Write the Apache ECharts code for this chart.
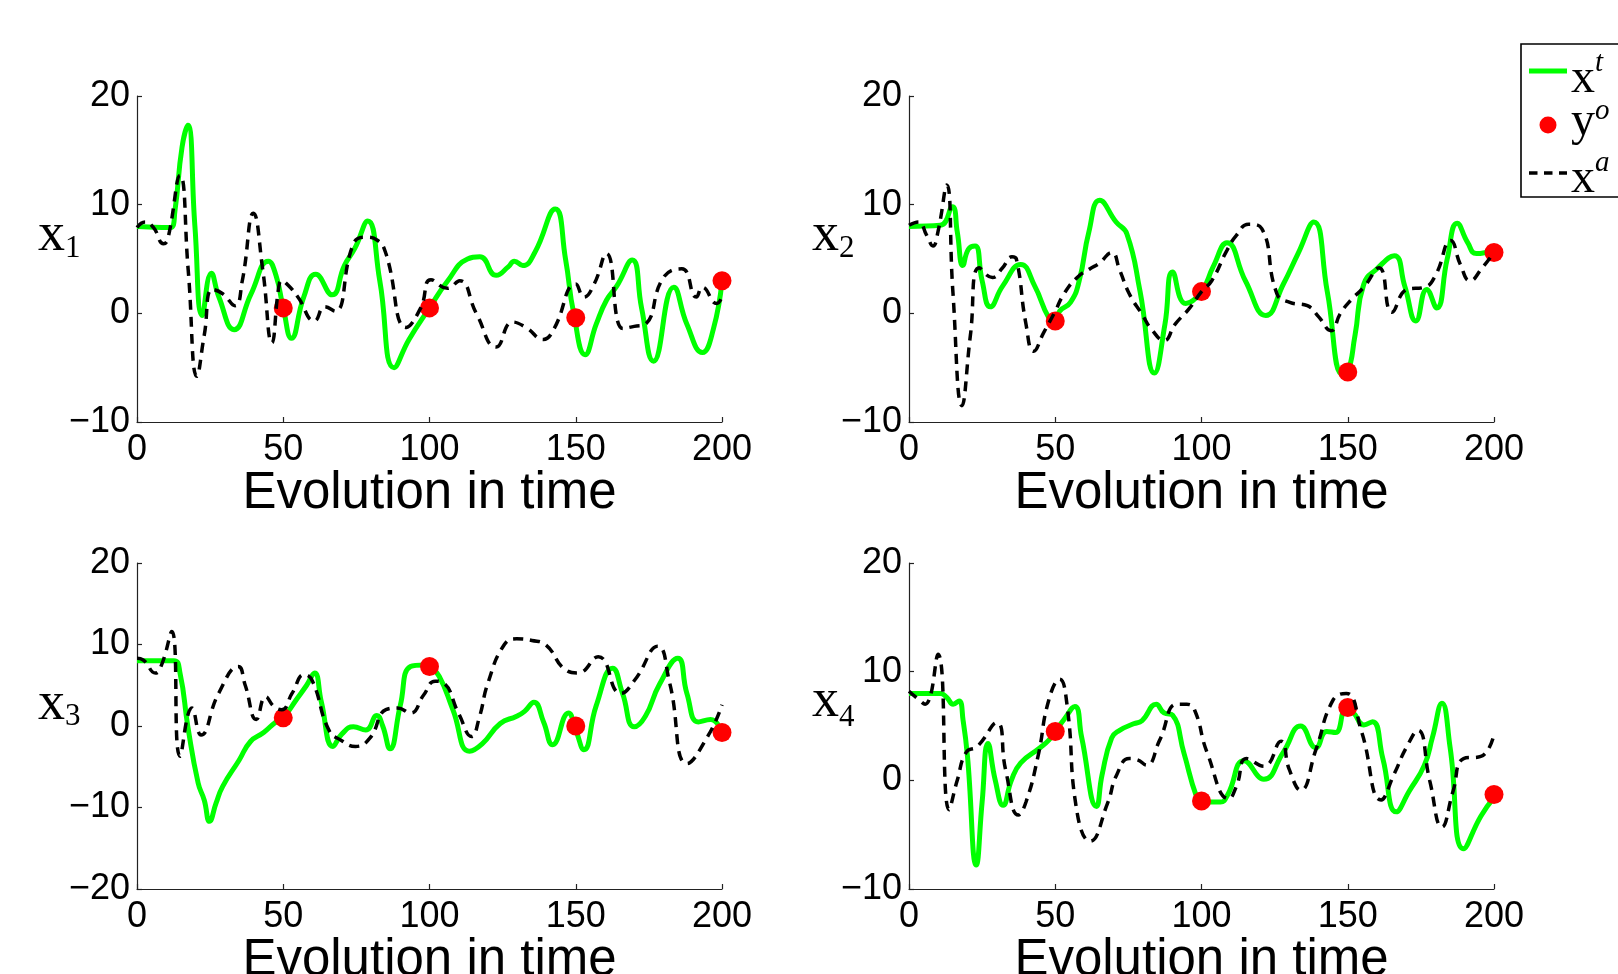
<!DOCTYPE html>
<html>
<head>
<meta charset="utf-8">
<script src="https://cdn.jsdelivr.net/npm/echarts@6/dist/echarts.min.js"></script>
<style>
  html, body { margin: 0; padding: 0; background: #fff; }
  #main { width: 1618px; height: 974px; }
</style>
</head>
<body>
<div id="main"></div>
<script>
// time axis ticks
var timeTicks = [0, 50, 100, 150, 200];

// x1 panel
var x1True = [[0,8.0],[11.5,7.9],[13,9.5],[15.4,15.3],[17.4,17.3],[19.8,8.0],[22.3,-0.2],[25.4,3.7],[28,1.5],[33.2,-1.5],[39,1.8],[44.9,4.8],[47.5,3.5],[50,0.5],[52.8,-2.3],[57,1.5],[61.1,3.6],[66.7,1.7],[70.9,4.4],[74.5,6.0],[78.9,8.5],[83,3],[87.9,-5.0],[93,-2.4],[100,0.5],[106,2.9],[113,5.0],[117.2,5.2],[122.8,3.5],[127,4.3],[129,4.8],[131.9,4.4],[136,5.6],[143,9.6],[146.5,5],[149.3,0],[153.2,-3.8],[157,-1],[160.5,1.2],[164,2.5],[169.3,4.9],[172.5,0.5],[176.6,-4.4],[183.5,2.4],[188,-1],[193.3,-3.6],[197,-1.5],[200,3.0]];
var x1Obs = [[50,0.5],[100,0.5],[150,-0.4],[200,3.0]];
var x1Anal = [[0,7.9],[2.8,8.4],[5.6,7.9],[9.1,6.4],[10.5,6.8],[14.7,12.7],[17.5,4],[20.5,-5.8],[23,-2],[25.8,2.2],[29.3,1.8],[33.5,0.7],[36,3],[39.8,9.2],[43,4],[46.1,-2.7],[48.5,2.5],[49.5,3.0],[51.6,2.6],[55,1.5],[60.7,-0.7],[64.2,0.6],[67.7,0.2],[74,6.4],[78.2,7.0],[82.3,6.7],[85.1,5.5],[92.1,-1.3],[97,0.5],[100.5,3.1],[106.1,2.3],[110.3,3.0],[116,0],[122.8,-3.1],[128.4,-0.8],[133,-1.3],[138.9,-2.4],[142.4,-1.5],[150,2.7],[152.8,1.5],[156.3,2.7],[160.5,5.5],[166.1,-1.4],[170,-1.2],[173.8,-1.0],[180,3.3],[186.3,4.1],[191.2,1.5],[193.3,2.4],[198.2,0.9],[200,1.5]];

// x2 panel
var x2True = [[0,8.0],[10.7,8.1],[14.8,9.8],[16.5,7.5],[18.4,4.4],[20.3,5.9],[22.6,6.2],[25,3],[27.8,0.6],[32,2.5],[38.2,4.5],[43,2.5],[47.8,-0.4],[50,-0.7],[51.5,0.2],[55.2,1.0],[58.2,3.0],[61.5,7.5],[65.2,10.4],[70.8,8.4],[74.5,7.3],[79,2],[83.9,-5.5],[87.5,-1],[90.1,3.8],[94.6,0.9],[100,2.0],[104,4.3],[108.7,6.5],[115,3],[122,-0.2],[128,2.7],[133,5.5],[138.4,8.4],[143,2],[148.2,-5.6],[150,-5.4],[152.5,-2],[155.5,2.7],[160,4.1],[165.9,5.3],[169.5,2.5],[173.3,-0.7],[177,2.2],[180.4,0.5],[184,5],[187.4,8.3],[191,6.5],[194,5.5],[200,5.8]];
var x2Obs = [[50,-0.7],[100,2.0],[150,-5.4],[200,5.6]];
var x2Anal = [[0,8.1],[3.3,8.4],[6,7.2],[8.2,6.2],[9.9,7.5],[12.9,11.8],[15,2],[18.1,-8.5],[21,-2],[24,4.2],[28.5,3.3],[32,4.2],[35.2,5.2],[36.7,5.0],[40,-1],[42.6,-3.5],[46,-1.8],[50,0.2],[53,1.8],[57.5,3.3],[61.9,4.1],[65,4.6],[69.3,5.6],[72,4],[75.3,1.8],[79.7,-0.1],[83,-1.5],[87.2,-2.5],[91,-1],[96,0.5],[100,2],[103.5,3.0],[108.7,5.8],[112,7.2],[116.1,8.2],[120.6,7.8],[125.8,1.8],[130.2,1.0],[136.2,0.7],[140,-0.3],[144.3,-1.6],[147.5,0],[151,1.2],[155.5,2.4],[160.7,4.2],[165.1,0.1],[170.3,2.2],[176.2,2.4],[180,3.5],[185.2,6.7],[188.5,4.5],[191.8,3.0],[196,4.2],[200,5.6]];

// x3 panel
var x3True = [[0,8.0],[12.6,8.0],[14.7,6.5],[17.4,-0.1],[20.9,-7.0],[23,-9.1],[24.8,-11.7],[27,-9.5],[29.3,-7.4],[34.9,-4.2],[38.8,-1.9],[43.3,-0.8],[47.5,0.5],[50,1.0],[54.4,3.2],[58,5],[60.7,6.5],[63,3],[67,-2.5],[70,-1],[74,-0.1],[78.2,-0.5],[82,1.3],[84,0],[86.5,-2.8],[90,2.5],[93.5,7.3],[98.4,7.5],[100,7.3],[103.3,6.1],[108,2],[113.7,-3.1],[118,-2.2],[124.2,0.3],[129.8,1.2],[132.5,1.8],[135.7,2.9],[139,0.5],[142.1,-2.3],[147.5,1.6],[150,-0.5],[152.8,-2.9],[157,2.5],[162.6,7.1],[166,4],[170,-0.1],[173.8,1.2],[178.6,5.1],[184.9,8.3],[188,4],[191.9,0.5],[196.1,0.8],[200,-0.7]];
var x3Obs = [[50,1.0],[100,7.3],[150,0.0],[200,-0.8]];
var x3Anal = [[0,8.3],[2.1,8.1],[6.3,6.5],[8.4,7.5],[11.9,11.6],[14.7,-3.7],[18.8,2.2],[21.9,-1.1],[27.9,4.0],[34.6,7.3],[37,5],[40.8,0.8],[44,3.6],[46.8,2.4],[49.5,2.0],[53,4],[57.2,6.3],[60,5.5],[65.6,-0.5],[70,-1.8],[74.7,-2.5],[79.6,-1.5],[85.1,2.0],[89,2.2],[93.5,1.6],[98,3.8],[101.9,5.5],[104.7,5.3],[110,1.5],[114.4,-1.3],[117,1],[120,5.3],[125.6,10.0],[129.8,10.7],[135,10.5],[139.6,10.0],[146.5,6.9],[150.7,6.5],[157.7,8.5],[165.4,4.0],[170.3,5.7],[178,9.8],[182.1,5.3],[188.1,-4.6],[195.4,-1.1],[200,2.6]];

// x4 panel
var x4True = [[0,8.0],[10.7,8.0],[13,7.6],[15.1,7.0],[17.1,7.3],[18.5,5.5],[20,2.2],[23,-7.8],[25,-2],[27,3.4],[29.5,0],[32.2,-2.3],[35,0],[38.2,1.6],[44.8,3.0],[47.8,3.7],[50,4.5],[53,5.6],[56.7,6.8],[59,4],[64.1,-2.4],[66,0.5],[69.3,3.9],[72,4.6],[76.8,5.2],[79.7,5.5],[84.5,7.0],[87.2,6.2],[90.1,6.0],[94,2.5],[98.3,-1.5],[100,-1.9],[103,-2.0],[106.5,-2.0],[109,-1.3],[114.6,1.8],[121.3,0.1],[128,2.6],[133.9,5.0],[139.1,3.0],[142.8,4.5],[145.8,4.4],[149.5,6.6],[152,6.2],[155.5,5.1],[158.5,5.4],[162,2],[166.6,-2.9],[171,-1],[176.2,1.4],[179,4],[182.2,7.1],[185,3],[189.6,-6.3],[195.5,-3.3],[200,-1.6]];
var x4Obs = [[50,4.5],[100,-1.9],[150,6.7],[200,-1.3]];
var x4Anal = [[0,8.2],[3,7.5],[5.5,7.0],[9.9,11.6],[13.7,-2.7],[16.5,0],[19.6,2.6],[23.3,3.1],[30,5.3],[33,1],[37.4,-3.2],[40,-2],[44.1,2.2],[47.8,7.4],[51.5,9.3],[54,7],[57.5,-3],[61.9,-5.6],[67.9,-2.1],[71,0.5],[75.3,2.0],[78,1.9],[81.2,1.4],[85.7,3.7],[91.6,7.0],[95,7.0],[97.6,6.5],[102,2.5],[109.4,-1.7],[112,-0.5],[115.4,2.0],[121.3,1.3],[127.2,3.6],[130,1],[133.9,-0.9],[139.1,2.8],[145,7.4],[149.5,8.0],[154.7,4.5],[161.4,-1.8],[165.9,0.6],[170,3],[174,4.6],[178,0],[182.2,-4.3],[186,-1],[189.6,2.0],[195.5,2.2],[200,4.2]];

var panelRanges = [[-10, 20], [-10, 20], [-20, 20], [-10, 20]];
var panelNames = ['1', '2', '3', '4'];

var myChart = echarts.init(document.getElementById('main'));

var panels = [
    {t: x1True, o: x1Obs, a: x1Anal},
    {t: x2True, o: x2Obs, a: x2Anal},
    {t: x3True, o: x3Obs, a: x3Anal},
    {t: x4True, o: x4Obs, a: x4Anal}
];

// grid boxes (left, top)
var boxes = [[137, 96], [909, 96], [137, 563], [909, 563]];
var grids = [], xAxes = [], yAxes = [], series = [];

boxes.forEach(function (b, i) {
    grids.push({left: b[0], top: b[1], width: 585, height: 326, containLabel: false, outerBoundsMode: 'none'});
    xAxes.push({
        gridIndex: i, type: 'value', min: 0, max: 200, interval: 50,
        axisLine: {show: true, onZero: false, lineStyle: {color: '#222', width: 1.2}},
        axisTick: {show: true, inside: true, length: 5, lineStyle: {color: '#222', width: 1.2}},
        splitLine: {show: false},
        axisLabel: {fontSize: 36, color: '#000', fontFamily: 'Liberation Sans', margin: 10},
        name: 'Evolution in time', nameLocation: 'middle', nameGap: 40,
        nameTextStyle: {fontSize: 51, color: '#000', fontFamily: 'Liberation Sans'}
    });
    yAxes.push({
        gridIndex: i, type: 'value', min: panelRanges[i][0], max: panelRanges[i][1], interval: 10,
        axisLine: {show: true, onZero: false, lineStyle: {color: '#222', width: 1.2}},
        axisTick: {show: true, inside: true, length: 5, lineStyle: {color: '#222', width: 1.2}},
        splitLine: {show: false},
        axisLabel: {
            fontSize: 36, color: '#000', fontFamily: 'Liberation Sans', margin: 7,
            formatter: function (v) { return String(v).replace('-', '\u2212'); }
        }
    });
    var p = panels[i];
    series.push({
        name: 'xt', type: 'line', xAxisIndex: i, yAxisIndex: i, data: p.t,
        smooth: 0.5, symbol: 'none', color: '#00ff00',
        lineStyle: {color: '#00ff00', width: 5}, z: 2
    });
    series.push({
        name: 'yo', type: 'scatter', xAxisIndex: i, yAxisIndex: i, data: p.o,
        symbol: 'circle', symbolSize: 19, color: '#ff0000',
        itemStyle: {color: '#ff0000', opacity: 1}, z: 3
    });
    series.push({
        name: 'xa', type: 'line', xAxisIndex: i, yAxisIndex: i, data: p.a,
        smooth: 0.5, symbol: 'none', color: '#000',
        lineStyle: {color: '#000', width: 3.5, type: [10, 7]}, z: 4
    });
});

function txt(s, x, y, size, italic) {
    return {
        type: 'text', x: x, y: y, z: 10,
        style: {text: s, font: (italic ? 'italic ' : '') + size + 'px "Liberation Serif"', fill: '#000',
                align: 'left', verticalAlign: 'middle', textAlign: 'left', textVerticalAlign: 'middle'}
    };
}

// y labels x_1 .. x_4
var labelPos = [[38, 236, 249], [812, 236, 249], [38, 705, 717], [812, 702, 718]];
var graphics = [];
labelPos.forEach(function (lp, i) {
    graphics.push(txt('x', lp[0], lp[1], 54, false));
    graphics.push(txt(panelNames[i], lp[0] + 27, lp[2], 31, false));
});

// legend box
graphics.push({
    type: 'rect', z: 9, shape: {x: 1521, y: 44, width: 130, height: 153},
    style: {fill: '#fff', stroke: '#000', lineWidth: 1.6}
});
graphics.push({
    type: 'line', z: 10, shape: {x1: 1529, y1: 71, x2: 1567, y2: 71},
    style: {stroke: '#00ff00', lineWidth: 5}
});
graphics.push({
    type: 'circle', z: 10, shape: {cx: 1548, cy: 125, r: 8.5},
    style: {fill: '#ff0000'}
});
graphics.push({
    type: 'line', z: 10, shape: {x1: 1529, y1: 173, x2: 1567, y2: 173},
    style: {stroke: '#000', lineWidth: 3.5, lineDash: [8.5, 6.5]}
});
var legBase = ['x', 'y', 'x'];
var legSup = ['t', 'o', 'a'];
var legBaseY = [79.5, 122.5, 179.5];
var legSupY = [63, 111, 163];
legBase.forEach(function (s, k) {
    graphics.push(txt(s, 1571, legBaseY[k], 48, false));
    graphics.push(txt(legSup[k], 1595, legSupY[k], 29, true));
});

option = {
    animation: false,
    backgroundColor: '#fff',
    grid: grids,
    xAxis: xAxes,
    yAxis: yAxes,
    graphic: graphics,
    series: series
};

myChart.setOption(option);
</script>
</body>
</html>
